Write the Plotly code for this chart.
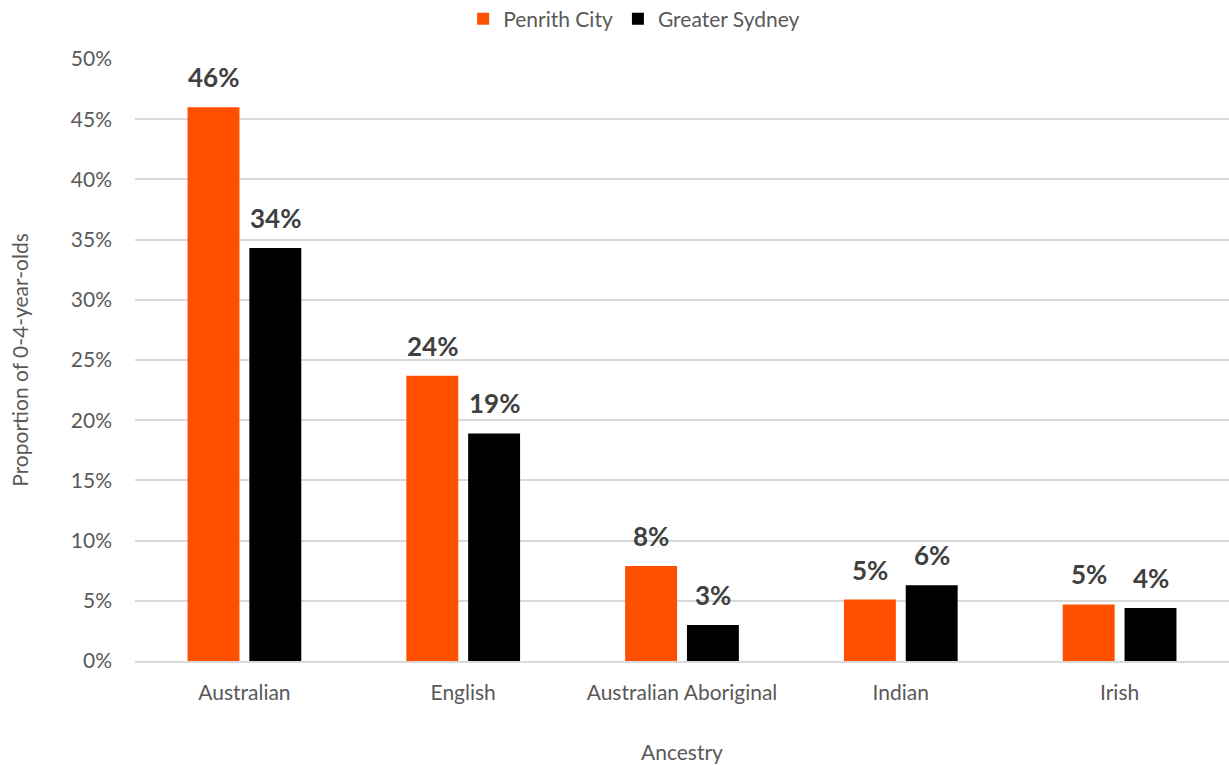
import plotly.graph_objects as go

categories = ["Australian", "English", "Australian Aboriginal", "Indian", "Irish"]
penrith = [0.460, 0.237, 0.079, 0.051, 0.047]
sydney = [0.343, 0.189, 0.030, 0.063, 0.044]
tick_vals = [0, 0.05, 0.10, 0.15, 0.20, 0.25, 0.30, 0.35, 0.40, 0.45, 0.50]

ORANGE = "#FF5000"
BLACK = "#000000"
FONT = "Lato, 'Open Sans', sans-serif"
GREY = "#595959"

fig = go.Figure()
fig.add_trace(go.Bar(x=categories, y=penrith, name="Penrith City",
                     marker=dict(color=ORANGE, line=dict(width=0)),
                     hovertemplate="%{x}: %{y:.1%}<extra>Penrith City</extra>"))
fig.add_trace(go.Bar(x=categories, y=sydney, name="Greater Sydney",
                     marker=dict(color=BLACK, line=dict(width=0)),
                     hovertemplate="%{x}: %{y:.1%}<extra>Greater Sydney</extra>"))

annotations = []
for series, shift in ((penrith, -31), (sydney, 31)):
    for c, v in zip(categories, series):
        annotations.append(dict(
            x=c, y=v, xref="x", yref="y", text=f"{round(v*100):.0f}%",
            showarrow=False, xshift=shift, yshift=12, yanchor="bottom",
            font=dict(family=FONT, size=26, color="#404040", weight="bold")))

fig.update_layout(
    width=1229, height=765,
    paper_bgcolor="white", plot_bgcolor="white",
    margin=dict(l=135, r=0, t=59, b=104, autoexpand=False),
    barmode="group", bargap=0.435, bargroupgap=0.16,
    font=dict(family=FONT, size=21, color=GREY),
    legend=dict(orientation="h", x=0.516, xanchor="center", xref="container",
                y=0.975, yref="container", yanchor="middle",
                font=dict(family=FONT, size=21, color=GREY),
                itemwidth=30, traceorder="normal"),
    annotations=annotations,
    xaxis=dict(title=dict(text="Ancestry", font=dict(size=21, color=GREY), standoff=42),
               automargin=False,
               showline=True, linecolor="#d9d9d9", linewidth=1.5,
               ticks="", ticklabelstandoff=12, tickfont=dict(size=21, color=GREY)),
    yaxis=dict(title=dict(text="Proportion of 0-4-year-olds", font=dict(size=21, color=GREY), standoff=36),
               automargin=False,
               range=[0, 0.5], tickvals=tick_vals, tickformat=".0%",
               showgrid=True, gridcolor="#d9d9d9", gridwidth=1.5,
               zeroline=False, ticks="", ticklabelstandoff=22,
               tickfont=dict(size=21, color=GREY)),
)

fig.write_html("out.html", config={"displayModeBar": False},
               post_script="document.body.style.margin='0';document.body.style.overflow='hidden';")
